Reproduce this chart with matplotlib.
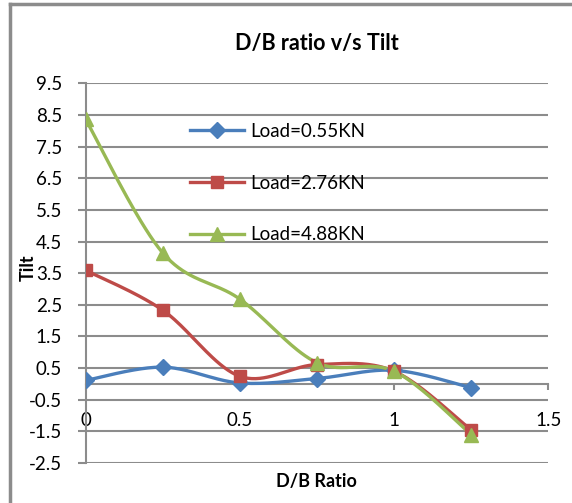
import numpy as np
import matplotlib
matplotlib.use("Agg")
import matplotlib.pyplot as plt
from matplotlib.lines import Line2D

plt.rcParams['font.family'] = ['Lato', 'DejaVu Sans']

# Data
db_ratio = [0, 0.25, 0.5, 0.75, 1.0, 1.25]
tilt_055 = [0.11, 0.53, 0.03, 0.17, 0.43, -0.12]
tilt_276 = [3.59, 2.33, 0.24, 0.61, 0.40, -1.46]
tilt_488 = [8.36, 4.14, 2.68, 0.67, 0.40, -1.60]
labels = ["Load=0.55KN", "Load=2.76KN", "Load=4.88KN"]
colors = ["#4A7EBB", "#BE4B48", "#98B954"]
markers = ["D", "s", "^"]
msizes = [8, 9, 10]
y_ticks = [9.5, 8.5, 7.5, 6.5, 5.5, 4.5, 3.5, 2.5, 1.5, 0.5, -0.5, -1.5, -2.5]
x_ticks = [0, 0.5, 1, 1.5]


def smooth(x, y, n=40):
    # Excel-like smoothed line (Catmull-Rom as cubic Bezier)
    p = np.column_stack([x, y]).astype(float)
    pts = np.vstack([p[0], p, p[-1]])
    out = []
    t = np.linspace(0, 1, n)[:, None]
    for i in range(1, len(pts) - 2):
        p0, p1, p2, p3 = pts[i - 1], pts[i], pts[i + 1], pts[i + 2]
        c1 = p1 + (p2 - p0) / 6
        c2 = p2 - (p3 - p1) / 6
        seg = ((1 - t) ** 3) * p1 + 3 * ((1 - t) ** 2) * t * c1 + 3 * (1 - t) * t ** 2 * c2 + t ** 3 * p2
        out.append(seg)
    s = np.vstack(out)
    return s[:, 0], s[:, 1]


fig = plt.figure(figsize=(5.72, 5.03), dpi=100)
ax = fig.add_axes([0.1497, 0.0795, 0.8089, 0.7549])

handles = []
for ys, c, m, ms, lab in zip([tilt_055, tilt_276, tilt_488], colors, markers, msizes, labels):
    sx, sy = smooth(db_ratio, ys)
    ax.plot(sx, sy, color=c, lw=2.4, zorder=3)
    ax.plot(db_ratio, ys, ls="none", marker=m, ms=ms, color=c, zorder=4)
    handles.append(Line2D([], [], color=c, lw=2.4, marker=m, ms=ms, label=lab))

ax.set_xlim(0, 1.5)
ax.set_ylim(-2.5, 9.5)
ax.set_yticks(y_ticks)
ax.set_yticklabels([f"{v:g}" for v in y_ticks])
ax.set_xticks(x_ticks)
ax.set_xticklabels([f"{v:g}" for v in x_ticks])

grid_c = "#8C8C8C"
ax.yaxis.grid(True, color=grid_c, lw=1.5)
ax.set_axisbelow(True)
for s in ["top", "right"]:
    ax.spines[s].set_visible(False)
ax.spines["left"].set_color(grid_c)
ax.spines["left"].set_linewidth(1.5)
ax.spines["bottom"].set_position(("data", 0))
ax.spines["bottom"].set_color(grid_c)
ax.spines["bottom"].set_linewidth(1.5)
ax.tick_params(axis="y", length=6, width=1.5, color=grid_c, pad=11, labelsize=13.5)
ax.tick_params(axis="x", length=4, width=1.5, color=grid_c, pad=16, labelsize=13.5)

ax.set_title("D/B ratio v/s Tilt", fontsize=15.5, fontweight="bold", pad=24)
fig.text(0.553, 0.042, "D/B Ratio", ha="center", va="center", fontsize=13, fontweight="bold")
fig.text(0.05, 0.467, "Tilt", ha="center", va="center", rotation=90, fontsize=13, fontweight="bold")

ax.legend(handles=handles, loc="upper left", bbox_to_anchor=(0.205, 0.92), frameon=False,
          fontsize=13.5, handlelength=2.9, handletextpad=0.3, labelspacing=1.85, borderpad=0)

# chart border (top and left edges visible)
x0 = 10 / 572
y0 = 1 - 4 / 503
fig.add_artist(Line2D([x0, 1.0], [y0, y0], color="#8C8C8C", lw=2.5, transform=fig.transFigure))
fig.add_artist(Line2D([x0, x0], [0, y0], color="#8C8C8C", lw=2.5, transform=fig.transFigure))

fig.savefig("out.png", dpi=100)
